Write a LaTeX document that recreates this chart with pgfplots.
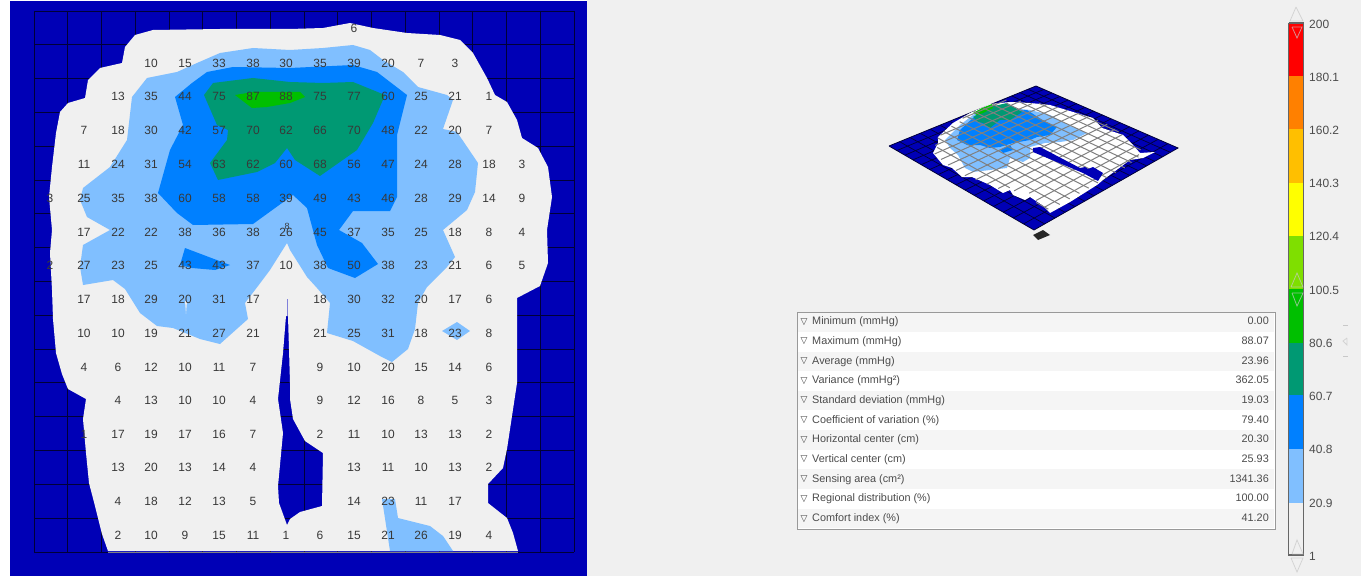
\documentclass[border=0pt]{standalone}
\usepackage{pgfplots}
\pgfplotsset{compat=1.18}
\usepackage{pgfplotstable}
\usepackage{fontspec}
\setmainfont{Liberation Sans}
\newfontfamily\symfont{DejaVu Sans}

\definecolor{plate}{HTML}{0000B6}
\definecolor{pale}{HTML}{F0F0F0}
\definecolor{c20}{HTML}{80BFFF}
\definecolor{c40}{HTML}{0080FF}
\definecolor{c60}{HTML}{009973}
\definecolor{c80}{HTML}{00BF00}
\definecolor{c100}{HTML}{7FDF00}
\definecolor{c120}{HTML}{FFFF00}
\definecolor{c140}{HTML}{FFBF00}
\definecolor{c160}{HTML}{FF8000}
\definecolor{c180}{HTML}{FF0000}
\definecolor{gridc}{HTML}{000038}
\definecolor{numc}{HTML}{383838}
\definecolor{tric}{HTML}{C8C8C8}

% map outlines, in picture pixels
\pgfplotstableread{
mx my
108 551
102 534
95 506
89 483
86 453
83 419
86 399
68 389
62 374
56 353
53 319
52 290
50 253
52 230
49 197
52 167
56 133
60 112
68 103
85 98
88 80
100 68
122 63
125 47
135 35
153 30
220 29
290 29
323 28
350 23
373 28
407 33
440 35
460 40
473 53
487 78
495 95
507 102
517 120
522 138
538 148
548 167
552 197
547 230
548 263
540 286
517 298
517 383
507 449
503 468
488 484
488 503
507 518
513 533
518 551
287 551
287 525
290 519
300 512
322 506
323 453
305 441
293 419
290 399
290 383
288 316
286 316
283 353
278 399
283 433
278 486
279 503
287 525
287 551
}\blob

\pgfplotstableread{
mx my
132 97
147 78
177 72
197 63
220 53
253 48
290 50
323 48
353 45
370 50
383 60
403 72
418 87
447 95
453 100
443 129
457 132
478 163
475 192
467 210
443 230
455 257
447 267
427 287
418 303
415 329
408 349
392 362
380 356
353 341
327 333
330 303
317 288
307 277
290 250
287 243
270 270
258 286
245 303
248 319
220 344
200 339
173 328
157 326
140 313
125 289
113 280
83 285
80 267
83 245
110 230
87 217
80 200
83 188
110 167
127 140
}\lightA

\pgfplotstableread{
mx my
442 331
457 322
470 331
457 340
}\lightB

\pgfplotstableread{
mx my
382 499
395 499
398 518
430 526
443 536
453 551
390 551
}\lightC

\pgfplotstableread{
mx my
175 97
192 83
207 72
233 67
290 68
353 65
377 72
407 95
397 135
397 197
390 211
353 211
339 230
362 243
378 264
355 278
328 268
317 245
307 208
293 195
253 224
193 225
177 213
158 193
170 150
183 125
}\blueA

\pgfplotstableread{
mx my
185 248
230 265
215 270
192 268
180 265
}\blueB

\pgfplotstableread{
mx my
204 95
213 83
253 78
290 82
323 83
353 82
385 95
373 123
357 150
320 176
295 160
287 148
275 163
257 172
218 180
210 163
227 140
228 130
217 125
}\tealA

\pgfplotstableread{
mx my
235 95
253 92
300 92
305 97
290 103
267 107
252 108
}\greenA

% outlines of the small view
\pgfplotstableread{
mx my
938 137
953 123
970 113
990 104
1010 102
1030 103
1050 105
1073 112
1093 118
1102 128
1123 135
1133 145
1140 153
1155 152
1143 158
1130 160
1103 180
1097 185
1070 202
1050 213
1042 205
1030 197
1025 200
1013 195
1010 190
1003 193
990 185
972 177
962 177
952 168
943 165
933 153
938 143
}\vwhite

\pgfplotstableread{
mx my
945 140
960 125
973 115
990 106
1030 110
1050 115
1068 125
1087 133
1073 140
1060 142
1045 143
1030 147
1030 158
1023 162
1010 158
1007 168
990 170
973 172
965 168
958 155
950 148
}\vlight

\pgfplotstableread{
mx my
960 130
973 118
990 113
1027 110
1047 123
1057 127
1050 135
1037 137
1030 140
1013 143
1000 147
990 148
980 145
967 145
957 140
}\vblue

\pgfplotstableread{
mx my
1000 150
1010 145
1013 150
1003 153
}\vblueb

\pgfplotstableread{
mx my
973 117
990 107
1007 103
1022 112
1010 120
1000 120
990 128
983 123
978 122
}\vteal

\pgfplotstableread{
mx my
973 113
982 108
992 104
993 108
983 113
977 115
}\vgreen

\pgfplotstableread{
mx my
1033 148
1040 147
1080 168
1085 167
1088 169
1093 167
1103 173
1098 181
1083 173
1033 152
}\vslit

\pgfplotstableread{
x y label
354 28 6
151 63 10
185 63 15
219 63 33
253 63 38
286 63 30
320 63 35
354 63 39
388 63 20
421 63 7
455 63 3
118 96 13
151 96 35
185 96 44
219 96 75
253 96 87
286 96 88
320 96 75
354 96 77
388 96 60
421 96 25
455 96 21
489 96 1
84 130 7
118 130 18
151 130 30
185 130 42
219 130 57
253 130 70
286 130 62
320 130 66
354 130 70
388 130 48
421 130 22
455 130 20
489 130 7
84 164 11
118 164 24
151 164 31
185 164 54
219 164 63
253 164 62
286 164 60
320 164 68
354 164 56
388 164 47
421 164 24
455 164 28
489 164 18
522 164 3
50 198 3
84 198 25
118 198 35
151 198 38
185 198 60
219 198 58
253 198 58
286 198 39
320 198 49
354 198 43
388 198 46
421 198 28
455 198 29
489 198 14
522 198 9
84 232 17
118 232 22
151 232 22
185 232 38
219 232 36
253 232 38
286 232 26
320 232 45
354 232 37
388 232 35
421 232 25
455 232 18
489 232 8
522 232 4
50 265 2
84 265 27
118 265 23
151 265 25
185 265 43
219 265 43
253 265 37
286 265 10
320 265 38
354 265 50
388 265 38
421 265 23
455 265 21
489 265 6
522 265 5
84 299 17
118 299 18
151 299 29
185 299 20
219 299 31
253 299 17
320 299 18
354 299 30
388 299 32
421 299 20
455 299 17
489 299 6
84 333 10
118 333 10
151 333 19
185 333 21
219 333 27
253 333 21
320 333 21
354 333 25
388 333 31
421 333 18
455 333 23
489 333 8
84 367 4
118 367 6
151 367 12
185 367 10
219 367 11
253 367 7
320 367 9
354 367 10
388 367 20
421 367 15
455 367 14
489 367 6
118 400 4
151 400 13
185 400 10
219 400 10
253 400 4
320 400 9
354 400 12
388 400 16
421 400 8
455 400 5
489 400 3
84 434 1
118 434 17
151 434 19
185 434 17
219 434 16
253 434 7
320 434 2
354 434 11
388 434 10
421 434 13
455 434 13
489 434 2
118 467 13
151 467 20
185 467 13
219 467 14
253 467 4
354 467 13
388 467 11
421 467 10
455 467 13
489 467 2
118 501 4
151 501 18
185 501 12
219 501 13
253 501 5
354 501 14
388 501 23
421 501 11
455 501 17
118 535 2
151 535 10
185 535 9
219 535 15
253 535 11
286 535 1
320 535 6
354 535 15
388 535 21
421 535 26
455 535 19
489 535 4
}\maplabels

% projection of the map grid onto the small view
\newcommand\pu{((\thisrow{mx}-34)/540)}
\newcommand\pv{((\thisrow{my}-11)/541)}
\newcommand\den{(0.16595*\pu-0.14282*\pv+1)}
\newcommand\mapfill[2]{\addplot[fill=#1,draw=none,forget plot] table[x=mx,y=my] {#2};}
\newcommand\segv[3]{\addplot[color=black!50!white,line width=1pt,forget plot] table[row sep=\\,
  x expr={(318.9*\pu-2.7*\pv+889)/\den},
  y expr={(-45.73*\pu+51.15*\pv+146)/\den-5}] {mx my\\ #1 #2\\ #1 #3\\};}
\newcommand\segh[3]{\addplot[color=black!50!white,line width=1pt,forget plot] table[row sep=\\,
  x expr={(318.9*\pu-2.7*\pv+889)/\den},
  y expr={(-45.73*\pu+51.15*\pv+146)/\den-5}] {mx my\\ #2 #1\\ #3 #1\\};}
\newcommand\rectfill[5]{\addplot[fill=#5,draw=none,forget plot] coordinates {(#1,#2) (#3,#2) (#3,#4) (#1,#4)};}
\newcommand\tri[6]{\addplot[draw=tric,line width=0.8pt,opacity=0.7,forget plot] coordinates {(#1,#2) (#3,#4) (#5,#6) (#1,#2)};}
\newcommand\statrow[3]{\node[anchor=west,inner sep=0pt,text height=7.5pt,text depth=2pt,text=black!70,font=\fontsize{10.9}{12}\selectfont] at (axis cs:812,#1) {#2};
  \node[anchor=east,inner sep=0pt,text height=7.5pt,text depth=2pt,text=black!70,font=\fontsize{10.9}{12}\selectfont] at (axis cs:1269,#1) {#3};
  \node[inner sep=0pt,text=black!75,font=\symfont\fontsize{9}{10}\selectfont] at (axis cs:804,#1) {▽};}
\newcommand\cbl[2]{\node[anchor=west,inner sep=0pt,text height=8.6pt,text depth=0pt,text=black!70,font=\fontsize{12}{13}\selectfont] at (axis cs:1309,#1) {#2};}

\begin{document}
\begin{tikzpicture}
\begin{axis}[
    width=1361bp, height=576bp,
    scale only axis,
    hide axis,
    xmin=0, xmax=1361,
    ymin=0, ymax=576,
    y dir=reverse,
]
% panels
\rectfill{0}{0}{1361}{576}{white}
\rectfill{587}{0}{1361}{576}{pale}
\rectfill{10}{1}{587}{576}{plate}

% pressure map
\pgfplotsinvokeforeach{34,67.75,101.5,135.25,169,202.75,236.5,270.25,304,337.75,371.5,405.25,439,472.75,506.5,540.25,574}{
  \addplot[color=gridc,line width=1pt,forget plot] coordinates {(#1,11) (#1,552)};
}
\pgfplotsinvokeforeach{11,44.8,78.6,112.4,146.3,180.1,213.9,247.7,281.5,315.3,349.1,382.9,416.8,450.6,484.4,518.2,552}{
  \addplot[color=gridc,line width=1pt,forget plot] coordinates {(34,#1) (574,#1)};
}
\mapfill{pale}{\blob}
\addplot[color=plate!50!white,line width=1pt,forget plot] coordinates {(287,299) (287,316)};
\addplot[color=gray,line width=0.9pt,forget plot] coordinates {(108,552) (518,552)};
\mapfill{c20}{\lightA}
\mapfill{c20}{\lightB}
\mapfill{c20}{\lightC}
\addplot[fill=pale,draw=none,forget plot] coordinates {(185,301) (187,301) (186,314)};
\mapfill{c40}{\blueA}
\mapfill{c40}{\blueB}
\mapfill{c60}{\tealA}
\mapfill{c80}{\greenA}
\addplot[only marks,mark size=0pt,point meta=explicit symbolic,
    nodes near coords={\pgfplotspointmeta},
    nodes near coords align={center},
    every node near coord/.append style={text=numc,inner sep=0pt,text height=8.6pt,text depth=0pt,font=\fontsize{12}{13}\selectfont}]
    table[x=x,y=y,meta=label] {\maplabels};
\node[inner sep=0pt,text=numc,font=\fontsize{9}{10}\selectfont] at (axis cs:287,226) {8};

% small 3D view
\addplot[fill=black!85,draw=none,forget plot] coordinates {(1033,235) (1043,230) (1050,235) (1038,240)};
\addplot[fill=plate,draw=gridc,line width=0.8pt,forget plot] coordinates {(889,146) (1036,86) (1178,148) (1034,230) (889,146)};
\pgfplotsinvokeforeach{67.75,101.5,135.25,169,202.75,236.5,270.25,304,337.75,371.5,405.25,439,472.75,506.5,540.25}{
  \addplot[color=gridc,line width=0.7pt,forget plot] table[row sep=\\,
    x expr={(318.9*\pu-2.7*\pv+889)/\den},
    y expr={(-45.73*\pu+51.15*\pv+146)/\den}] {mx my\\ #1 11\\ #1 552\\};
}
\pgfplotsinvokeforeach{44.8,78.6,112.4,146.3,180.1,213.9,247.7,281.5,315.3,349.1,382.9,416.8,450.6,484.4,518.2}{
  \addplot[color=gridc,line width=0.7pt,forget plot] table[row sep=\\,
    x expr={(318.9*\pu-2.7*\pv+889)/\den},
    y expr={(-45.73*\pu+51.15*\pv+146)/\den}] {mx my\\ 34 #1\\ 574 #1\\};
}
\mapfill{white}{\vwhite}
\mapfill{c20}{\vlight}
\mapfill{c40}{\vblue}
\mapfill{c40}{\vblueb}
\mapfill{c60}{\vteal}
\mapfill{c80}{\vgreen}
\segv{102}{125}{400}
\segv{102}{490}{530}
\segv{135}{85}{535}
\segv{169}{70}{535}
\segv{203}{60}{535}
\segv{236}{55}{535}
\segv{270}{40}{535}
\segv{304}{35}{535}
\segv{338}{35}{535}
\segv{372}{38}{535}
\segv{405}{60}{530}
\segv{439}{85}{525}
\segv{473}{125}{505}
\segv{507}{245}{400}
\segh{45}{255}{420}
\segh{79}{150}{445}
\segh{113}{105}{458}
\segh{147}{76}{482}
\segh{180}{70}{495}
\segh{214}{65}{500}
\segh{248}{62}{507}
\segh{282}{62}{515}
\segh{315}{68}{518}
\segh{349}{74}{518}
\segh{383}{80}{510}
\segh{417}{100}{502}
\segh{450}{118}{490}
\segh{484}{108}{470}
\segh{518}{100}{450}
\mapfill{plate}{\vslit}

% statistics table
\addplot[fill=white,draw=black!40,line width=1pt,forget plot] coordinates {(797,312) (1275,312) (1275,529) (797,529) (797,312)};
\rectfill{798}{313}{1274}{332}{black!4}
\rectfill{798}{352}{1274}{371}{black!4}
\rectfill{798}{391}{1274}{410}{black!4}
\rectfill{798}{430}{1274}{450}{black!4}
\rectfill{798}{469}{1274}{489}{black!4}
\rectfill{798}{509}{1274}{528}{black!4}
\statrow{322}{Minimum (mmHg)}{0.00}
\statrow{341.6}{Maximum (mmHg)}{88.07}
\statrow{361.3}{Average (mmHg)}{23.96}
\statrow{381}{Variance (mmHg²)}{362.05}
\statrow{400.6}{Standard deviation (mmHg)}{19.03}
\statrow{420.3}{Coefficient of variation (\%)}{79.40}
\statrow{440}{Horizontal center (cm)}{20.30}
\statrow{459.6}{Vertical center (cm)}{25.93}
\statrow{479.3}{Sensing area (cm²)}{1341.36}
\statrow{499}{Regional distribution (\%)}{100.00}
\statrow{518.7}{Comfort index (\%)}{41.20}

% colour bar
\rectfill{1289}{23}{1304}{76}{c180}
\rectfill{1289}{76}{1304}{129}{c160}
\rectfill{1289}{129}{1304}{183}{c140}
\rectfill{1289}{183}{1304}{236}{c120}
\rectfill{1289}{236}{1304}{289}{c100}
\rectfill{1289}{289}{1304}{343}{c80}
\rectfill{1289}{343}{1304}{395}{c60}
\rectfill{1289}{395}{1304}{449}{c40}
\rectfill{1289}{449}{1304}{503}{c20}
\rectfill{1289}{503}{1304}{555}{pale}
\addplot[draw=black!60,line width=1.3pt,forget plot] coordinates {(1288.5,23) (1303.5,23) (1303.5,555) (1288.5,555) (1288.5,23)};
\tri{1296}{7}{1290}{21}{1303}{21}
\tri{1292}{27}{1302}{27}{1297}{38}
\tri{1291}{287}{1297}{273}{1303}{287}
\tri{1292}{293}{1303}{293}{1297}{306}
\tri{1292}{554}{1297}{540}{1303}{554}
\tri{1291}{558}{1303}{558}{1297}{572}
\tri{1347}{338}{1343}{341}{1347}{345}
\addplot[draw=tric,line width=0.8pt,forget plot] coordinates {(1343,325) (1348,325)};
\addplot[draw=tric,line width=0.8pt,forget plot] coordinates {(1343,356) (1348,356)};
\cbl{24}{200}
\cbl{77}{180.1}
\cbl{130}{160.2}
\cbl{183}{140.3}
\cbl{236}{120.4}
\cbl{290}{100.5}
\cbl{343}{80.6}
\cbl{396}{60.7}
\cbl{449}{40.8}
\cbl{503}{20.9}
\cbl{556}{1}
\end{axis}
\end{tikzpicture}
\end{document}
